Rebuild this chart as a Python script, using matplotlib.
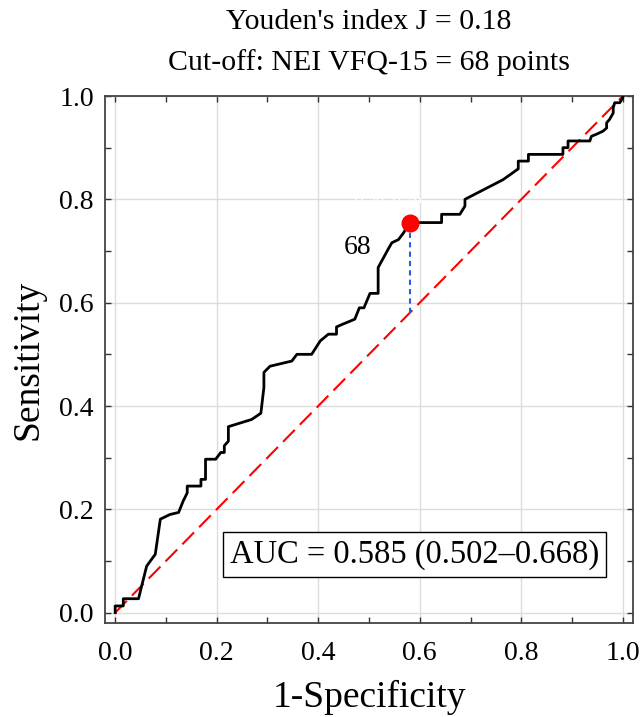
import numpy as np
import matplotlib
matplotlib.use("Agg")
import matplotlib.pyplot as plt
from matplotlib.ticker import MultipleLocator

# ROC curve (1-specificity, sensitivity)
fpr = [0.0, 0.0, 0.016, 0.016, 0.046, 0.062, 0.079, 0.089, 0.108, 0.125,
       0.134, 0.142, 0.142, 0.169, 0.169, 0.178, 0.178, 0.198, 0.208, 0.215,
       0.215, 0.223, 0.223, 0.269, 0.269, 0.287, 0.287, 0.293, 0.293, 0.305,
       0.348, 0.358, 0.387, 0.404, 0.42, 0.436, 0.436, 0.445, 0.472, 0.481,
       0.49, 0.502, 0.518, 0.518, 0.538, 0.545, 0.558, 0.568, 0.58, 0.643,
       0.643, 0.679, 0.689, 0.689, 0.764, 0.794, 0.794, 0.814, 0.814, 0.882,
       0.882, 0.892, 0.892, 0.935, 0.938, 0.948, 0.961, 0.968, 0.968, 0.974,
       0.981, 0.981, 0.984, 0.994, 1.0, 1.0]
tpr = [0.0, 0.013, 0.013, 0.027, 0.027, 0.09, 0.113, 0.181, 0.19, 0.194,
       0.216, 0.232, 0.245, 0.245, 0.258, 0.258, 0.297, 0.297, 0.31, 0.31,
       0.323, 0.332, 0.36, 0.374, 0.374, 0.386, 0.386, 0.436, 0.465, 0.477,
       0.487, 0.5, 0.5, 0.526, 0.539, 0.539, 0.553, 0.557, 0.568, 0.59,
       0.59, 0.618, 0.618, 0.668, 0.704, 0.716, 0.722, 0.735, 0.755, 0.755,
       0.771, 0.771, 0.787, 0.8, 0.838, 0.859, 0.874, 0.874, 0.887, 0.887,
       0.9, 0.9, 0.913, 0.913, 0.922, 0.926, 0.932, 0.938, 0.948, 0.955,
       0.967, 0.977, 0.987, 0.987, 0.997, 1.0]

cut_fpr = 0.58
cut_tpr = 0.755
cut_label = "68"
title_lines = ["Youden's index J = 0.18", "Cut-off: NEI VFQ-15 = 68 points"]
auc_text = "AUC = 0.585 (0.502\u20130.668)"
ticks = [0.0, 0.2, 0.4, 0.6, 0.8, 1.0]

plt.rcParams['font.family'] = ['Liberation Serif', 'DejaVu Serif']

fig = plt.figure(figsize=(6.44, 7.17), dpi=100)
ax = fig.add_axes([105 / 644, 1 - 623 / 717, 528 / 644, 527 / 717])

ax.set_xlim(-0.02, 1.02)
ax.set_ylim(-0.02, 1.0)
ax.set_xticks(ticks)
ax.set_yticks(ticks)
ax.set_xticklabels([f"{t:.1f}" for t in ticks])
ax.set_yticklabels([f"{t:.1f}" for t in ticks])
ax.xaxis.set_minor_locator(MultipleLocator(0.1))
ax.yaxis.set_minor_locator(MultipleLocator(0.1))
ax.tick_params(which='both', direction='in', length=4, width=1,
               top=True, right=True, colors='#333333', labelcolor='black',
               labelsize=20)
ax.tick_params(axis='x', pad=13)
ax.tick_params(axis='y', pad=8)
ax.grid(True, which='major', color='#dcdcdc', linewidth=1)
ax.set_axisbelow(True)
for sp in ax.spines.values():
    sp.set_color('#444444')
    sp.set_linewidth(1.3)

# chance line
ax.plot([0, 1], [0, 1], color='red', lw=1.5, dashes=(8, 3.5), zorder=3)
# roc curve
ax.plot(fpr, tpr, color='black', lw=2.0, zorder=4)
# youden cut-off
ax.plot([cut_fpr, cut_fpr], [cut_fpr, cut_tpr], color='#2b5fd9', lw=1.5,
        dashes=(2.5, 2), zorder=5)
ax.plot(cut_fpr, cut_tpr, 'o', color='red', markersize=12, zorder=6)
ax.text(0.538, 0.8, "0.58, 0.76", color='white', fontsize=12,
        ha='center', va='center', zorder=2)
ax.text(0.478, 0.707, cut_label, fontsize=20, ha='center', va='center', zorder=6)

ax.text(0.59, 0.113, auc_text, fontsize=23.5, ha='center', va='center', zorder=7,
        bbox=dict(boxstyle='square,pad=0.22', facecolor='white',
                  edgecolor='black', linewidth=1))

fig.text(369 / 644, 1 - 22 / 717, title_lines[0], fontsize=21.5,
         ha='center', va='center')
fig.text(369 / 644, 1 - 63 / 717, title_lines[1], fontsize=21.5,
         ha='center', va='center')
ax.set_xlabel("1-Specificity", fontsize=27, labelpad=10)
ax.set_ylabel("Sensitivity", fontsize=27, labelpad=10)

fig.savefig("out.png", dpi=100)
